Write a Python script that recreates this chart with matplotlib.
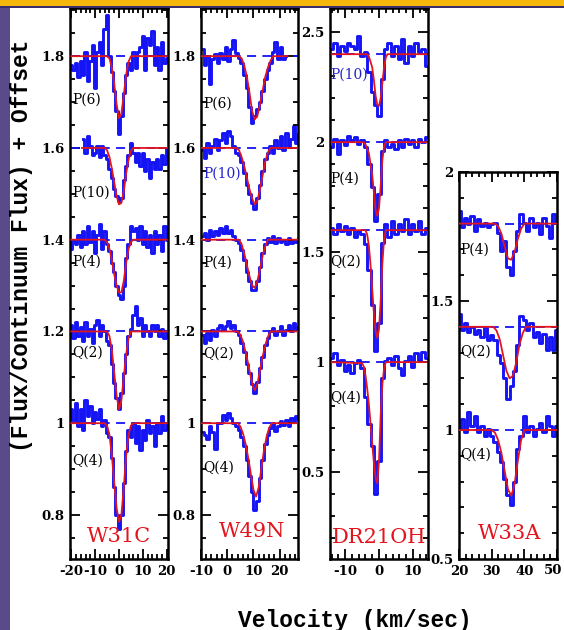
import numpy as np
import matplotlib
matplotlib.use('Agg')
import matplotlib.pyplot as plt
from matplotlib.patches import Rectangle
from matplotlib.ticker import MultipleLocator, FuncFormatter

plt.rcParams['axes.unicode_minus'] = False

# ── velocity channels (km/s) ──────────────────────────────────────────────────
v_w31c = np.arange(-20, 21)
v_w31c_p10 = np.arange(-15, 21)
v_w49n = np.arange(-9.5, 28)
v_w49n_p6 = np.arange(-9.5, 23)
v_dr21 = np.arange(-14, 15)
v_w33a = np.arange(20, 51)

# ── normalised spectra (flux / continuum) ─────────────────────────────────────
w31c_p6 = [0.98, 0.97, 0.985, 0.955, 0.99, 0.96, 1.01, 0.945, 0.99, 1.025,
           0.93, 1.01, 1.03, 0.98, 1.06, 1.09, 1.0, 0.965, 0.925, 0.88,
           0.83, 0.87, 0.92, 0.96, 0.985, 0.97, 1.01, 0.975, 1.01, 1.02,
           1.045, 0.97, 1.04, 1.025, 1.055, 0.98, 1.02, 0.97, 1.03, 0.985, 0.995]
w31c_p10 = [1.02, 0.99, 1.025, 1.005, 0.985, 0.99, 1.005, 0.98, 1.005, 0.985,
            0.975, 0.955, 0.935, 0.91, 0.895, 0.885, 0.89, 0.93, 0.96, 0.985,
            1.01, 0.99, 0.97, 0.99, 0.96, 0.99, 0.95, 0.975, 0.935, 0.97,
            0.955, 0.975, 0.955, 0.985, 0.965, 1.0]
w31c_p4 = [0.98, 1.0, 0.99, 1.01, 0.985, 1.02, 0.99, 1.03, 0.995, 1.02,
           0.97, 1.01, 1.035, 0.98, 1.02, 0.99, 0.975, 0.95, 0.93, 0.9,
           0.88, 0.87, 0.9, 0.96, 0.99, 1.03, 1.02, 1.025, 1.0, 1.03,
           0.99, 1.02, 0.985, 1.01, 0.97, 1.02, 0.99, 1.01, 0.975, 1.03, 1.0]
w31c_q2 = [1.013, 0.985, 1.02, 0.99, 1.01, 0.98, 1.02, 0.99, 1.005, 0.975,
           1.013, 1.025, 0.99, 1.013, 1.0, 0.98, 0.97, 0.93, 0.887, 0.854,
           0.832, 0.865, 0.91, 0.95, 0.99, 1.005, 1.035, 1.055, 1.013, 1.03,
           0.99, 1.015, 1.0, 0.99, 1.013, 1.0, 1.015, 0.99, 1.005, 0.985, 1.0]
w31c_q4 = [1.03, 1.007, 1.045, 0.993, 1.03, 0.985, 1.05, 1.015, 1.037, 1.0,
           1.025, 1.01, 1.03, 0.993, 1.007, 0.978, 0.97, 0.925, 0.86, 0.80,
           0.77, 0.80, 0.87, 0.94, 0.985, 0.97, 1.0, 0.956, 0.993, 0.942,
           0.985, 0.963, 1.007, 0.978, 0.993, 0.95, 1.0, 0.978, 1.015, 0.985, 1.0]

w49n_p6 = [1.015, 0.98, 1.0, 0.94, 0.993, 1.004, 0.985, 1.007, 0.993, 1.02,
           0.99, 1.015, 1.035, 1.007, 0.996, 0.985, 0.96, 0.93, 0.89, 0.855,
           0.87, 0.885, 0.9, 0.925, 0.95, 0.97, 0.985, 1.01, 1.03, 0.993,
           1.02, 0.993, 1.0]
w49n_p10 = [0.996, 0.978, 1.01, 0.99, 1.004, 1.02, 0.996, 1.018, 1.033, 1.01,
            1.036, 1.025, 1.004, 0.99, 0.985, 0.97, 0.945, 0.92, 0.9, 0.88,
            0.867, 0.89, 0.92, 0.95, 0.975, 0.99, 1.004, 0.99, 1.018, 1.0,
            1.025, 0.996, 1.033, 1.004, 1.02, 1.047, 1.01, 1.03]
w49n_p4 = [1.007, 1.015, 1.0, 1.022, 1.007, 1.018, 1.011, 1.025, 1.015, 1.03,
           1.015, 1.022, 1.007, 1.0, 0.993, 0.978, 0.956, 0.93, 0.91, 0.89,
           0.89, 0.91, 0.94, 0.97, 0.99, 1.004, 0.996, 1.007, 0.993, 1.004,
           0.996, 1.0, 0.99, 1.004, 0.993, 1.0, 0.996, 1.004]
w49n_q2 = [0.993, 0.975, 0.996, 0.982, 1.004, 0.99, 1.007, 1.015, 1.004, 1.011,
           1.022, 1.007, 1.015, 1.0, 0.993, 0.975, 0.955, 0.93, 0.91, 0.885,
           0.865, 0.89, 0.92, 0.945, 0.97, 0.985, 1.0, 1.007, 0.993, 1.0,
           1.011, 0.993, 1.004, 1.015, 1.0, 1.018, 1.007, 1.012]
w49n_q4 = [0.98, 0.975, 0.965, 0.994, 0.98, 0.943, 1.0, 1.0, 1.018, 1.008,
           1.022, 1.011, 1.0, 0.993, 0.985, 0.97, 0.95, 0.92, 0.885, 0.85,
           0.81, 0.83, 0.88, 0.92, 0.955, 0.975, 0.99, 1.0, 0.982, 0.993,
           1.004, 0.996, 1.008, 0.993, 1.011, 1.004, 1.015, 1.01]

dr21_p10 = [1.023, 1.053, 0.992, 1.038, 1.015, 1.053, 1.038, 1.023, 1.083, 0.992,
            1.008, 0.917, 0.826, 0.77, 0.72, 0.886, 1.023, 1.053, 0.992, 1.038,
            0.977, 1.068, 0.962, 1.038, 0.992, 1.053, 1.008, 1.023, 0.947]
dr21_p4 = [0.977, 1.015, 0.947, 1.008, 0.985, 1.03, 1.008, 1.023, 0.992, 1.008,
           0.977, 0.9, 0.795, 0.64, 0.765, 0.962, 1.008, 0.977, 0.992, 0.97,
           1.008, 0.977, 1.015, 0.992, 1.008, 0.977, 1.015, 1.0, 1.023]
dr21_q2 = [1.012, 0.982, 1.027, 0.997, 1.02, 0.982, 1.012, 0.967, 0.997, 0.982,
           0.936, 0.82, 0.66, 0.45, 0.58, 0.94, 1.027, 0.967, 1.042, 0.982,
           1.027, 0.997, 1.05, 0.982, 1.027, 0.997, 1.042, 0.982, 1.012]
dr21_q4 = [1.018, 1.041, 0.988, 1.011, 0.958, 0.988, 0.95, 0.995, 1.011, 0.973,
           0.84, 0.72, 0.62, 0.4, 0.55, 0.93, 1.003, 1.018, 0.988, 1.026,
           0.973, 0.942, 1.003, 1.026, 0.98, 1.041, 1.011, 1.048, 1.018]

w33a_p4 = [1.049, 0.985, 1.023, 0.997, 1.029, 0.972, 1.017, 0.991, 1.004, 0.985,
           0.997, 1.004, 0.965, 0.895, 0.933, 0.831, 0.799, 0.895, 0.972, 1.036,
           1.004, 0.972, 1.023, 0.985, 1.004, 0.959, 1.023, 0.991, 0.946, 1.036, 1.004]
w33a_q2 = [1.051, 0.987, 1.013, 0.981, 1.0, 0.974, 0.987, 0.962, 1.0, 0.949,
           0.968, 0.95, 0.89, 0.86, 0.8, 0.72, 0.77, 0.83, 0.93, 1.04,
           1.026, 0.987, 1.013, 0.962, 0.981, 0.936, 0.974, 0.91, 0.962, 0.91, 0.987]
w33a_q4 = [1.004, 1.042, 0.991, 1.068, 1.017, 1.055, 0.991, 1.017, 0.978, 1.004,
           0.978, 0.953, 0.914, 0.876, 0.812, 0.748, 0.71, 0.8, 0.927, 0.978,
           1.055, 0.991, 1.017, 0.978, 1.004, 1.029, 0.991, 1.055, 1.017, 0.978, 1.017]

# ── fitted line profiles (velocity knots, normalised flux) ────────────────────
fit_w31c_p6_v = [-20, -5, -4, -3, -2, -1, 0, 1, 2, 3, 4, 5, 20]
fit_w31c_p6_f = [1, 1, 0.995, 0.975, 0.94, 0.895, 0.865, 0.875, 0.915, 0.96, 0.988, 1, 1]
fit_w31c_p10_v = [-15.5, -6, -5, -4, -3, -2, -1, 0, 1, 2, 3, 4, 5, 6, 20]
fit_w31c_p10_f = [1, 1, 0.995, 0.98, 0.955, 0.925, 0.895, 0.877, 0.88, 0.905, 0.945, 0.975, 0.993, 1, 1]
fit_w31c_p4_v = [-20, -6, -5, -4, -3, -2, -1, 0, 1, 2, 3, 4, 5, 6, 20]
fit_w31c_p4_f = [1, 1, 0.995, 0.98, 0.955, 0.925, 0.9, 0.885, 0.885, 0.91, 0.95, 0.98, 0.995, 1, 1]
fit_w31c_q2_v = [-20, -5, -4, -3, -2, -1, 0, 1, 2, 3, 4, 5, 20]
fit_w31c_q2_f = [1, 1, 0.99, 0.96, 0.91, 0.86, 0.83, 0.85, 0.9, 0.95, 0.985, 1, 1]
fit_w31c_q4_v = [-20, -6, -5, -4, -3, -2, -1, 0, 1, 2, 3, 4, 5, 6, 20]
fit_w31c_q4_f = [1, 1, 0.995, 0.975, 0.93, 0.87, 0.815, 0.785, 0.8, 0.86, 0.93, 0.975, 0.995, 1, 1]

fit_w49n_p6_v = [-10, 4.5, 5.5, 6.5, 7.5, 8.5, 9.5, 10.5, 11.5, 12.5, 13.5, 14.5, 15.5, 16.5, 17.5, 23]
fit_w49n_p6_f = [1, 1, 0.995, 0.98, 0.955, 0.92, 0.88, 0.862, 0.87, 0.895, 0.925, 0.955, 0.975, 0.99, 1, 1]
fit_w49n_p10_v = [-10, 3.5, 4.5, 5.5, 6.5, 7.5, 8.5, 9.5, 10.5, 11.5, 12.5, 13.5, 14.5, 15.5, 16.5, 27]
fit_w49n_p10_f = [1, 1, 0.995, 0.98, 0.96, 0.935, 0.91, 0.89, 0.877, 0.885, 0.91, 0.94, 0.97, 0.99, 1, 1]
fit_w49n_p4_v = [-10, 4.5, 5.5, 6.5, 7.5, 8.5, 9.5, 10.5, 11.5, 12.5, 13.5, 14.5, 15.5, 27]
fit_w49n_p4_f = [1, 1, 0.99, 0.97, 0.945, 0.92, 0.9, 0.895, 0.91, 0.935, 0.965, 0.985, 1, 1]
fit_w49n_q2_v = [-10, 4, 5, 6, 7, 8, 9, 10, 10.5, 11.5, 12.5, 13.5, 14.5, 15.5, 16.5, 27]
fit_w49n_q2_f = [1, 1, 0.993, 0.978, 0.955, 0.93, 0.9, 0.877, 0.872, 0.885, 0.915, 0.945, 0.97, 0.988, 1, 1]
fit_w49n_q4_v = [-10, 4, 5, 6, 7, 8, 9, 10, 11, 12, 13, 14, 15, 16, 17, 27]
fit_w49n_q4_f = [1, 1, 0.993, 0.978, 0.955, 0.925, 0.89, 0.855, 0.84, 0.86, 0.9, 0.94, 0.97, 0.99, 1, 1]

fit_dr21_p10_v = [-14, -3.5, -3, -2, -1.5, -1, -0.5, 0, 0.5, 1, 1.5, 2, 2.5, 14]
fit_dr21_p10_f = [1, 1, 0.99, 0.94, 0.88, 0.81, 0.77, 0.765, 0.8, 0.87, 0.94, 0.985, 1, 1]
fit_dr21_p4_v = [-14, -4.5, -4, -3, -2, -1.5, -1, -0.5, 0, 0.5, 1, 1.5, 2, 14]
fit_dr21_p4_f = [1, 1, 0.99, 0.95, 0.85, 0.77, 0.69, 0.665, 0.7, 0.8, 0.92, 0.98, 1, 1]
fit_dr21_q2_v = [-14, -4, -3.5, -3, -2.5, -2, -1.5, -1, -0.5, 0, 0.5, 1, 1.5, 2, 14]
fit_dr21_q2_f = [1, 1, 0.98, 0.93, 0.84, 0.73, 0.62, 0.54, 0.51, 0.55, 0.68, 0.85, 0.96, 1, 1]
fit_dr21_q4_v = [-14, -5, -4.5, -4, -3.5, -3, -2.5, -2, -1.5, -1, -0.5, 0, 0.5, 1, 1.5, 2, 14]
fit_dr21_q4_f = [1, 0.995, 0.98, 0.94, 0.88, 0.81, 0.72, 0.63, 0.54, 0.47, 0.45, 0.55, 0.76, 0.9, 0.97, 1, 1]

fit_w33a_p4_v = [20, 31, 32, 33, 34, 35, 36, 37, 38, 39, 40, 50]
fit_w33a_p4_f = [1, 1, 0.99, 0.96, 0.91, 0.865, 0.86, 0.89, 0.94, 0.98, 1, 1]
fit_w33a_q2_v = [20, 30.5, 31.5, 32.5, 33.5, 34.5, 35.5, 36.5, 37.5, 38.5, 39.5, 40.5, 50]
fit_w33a_q2_f = [1, 1, 0.985, 0.95, 0.89, 0.83, 0.8, 0.81, 0.86, 0.93, 0.975, 1, 1]
fit_w33a_q4_v = [20, 30, 31, 32, 33, 34, 35, 36, 37, 38, 39, 40, 50]
fit_w33a_q4_f = [1, 1, 0.99, 0.96, 0.91, 0.84, 0.77, 0.745, 0.79, 0.88, 0.96, 1, 1]

# offsets added to each spectrum
w31c_offsets = [0.8, 0.6, 0.4, 0.2, 0.0]
w49n_offsets = [0.8, 0.6, 0.4, 0.2, 0.0]
dr21_offsets = [1.4, 1.0, 0.6, 0.0]
w33a_offsets = [0.8, 0.4, 0.0]

line_names = ['P(6)', 'P(10)', 'P(4)', 'Q(2)', 'Q(4)']

BLUE = '#1414f5'
RED = '#e3141c'
SERIF = 'DejaVu Serif'
MONO = 'Liberation Mono'

W, H = 564, 630
fig = plt.figure(figsize=(W / 100, H / 100), dpi=100)
fig.patch.set_facecolor('white')
fig.patches.append(Rectangle((0, 0), 10 / W, 1, transform=fig.transFigure,
                             facecolor='#5a4a8a', edgecolor='none', zorder=0))
fig.patches.append(Rectangle((0, 1 - 6 / H), 1, 6 / H, transform=fig.transFigure,
                             facecolor='#f6b70c', edgecolor='none', zorder=0))
fig.patches.append(Rectangle((0, 1 - 7.5 / H), 1, 1.5 / H, transform=fig.transFigure,
                             facecolor='#3b2d6e', edgecolor='none', zorder=0))


def make_ax(px_left, px_top, px_right, px_bottom, xlim, ylim, ymaj, ymin, xfmt=None):
    ax = fig.add_axes([px_left / W, 1 - px_bottom / H,
                       (px_right - px_left) / W, (px_bottom - px_top) / H])
    ax.set_xlim(*xlim)
    ax.set_ylim(*ylim)
    ax.xaxis.set_major_locator(MultipleLocator(10))
    ax.xaxis.set_minor_locator(MultipleLocator(2))
    ax.yaxis.set_major_locator(MultipleLocator(ymaj))
    ax.yaxis.set_minor_locator(MultipleLocator(ymin))
    ax.yaxis.set_major_formatter(FuncFormatter(lambda y, _: f'{y:g}'))
    if xfmt is not None:
        ax.xaxis.set_major_formatter(FuncFormatter(xfmt))
    ax.tick_params(which='both', direction='in', top=True, right=True,
                   width=1.3, labelsize=9.5, pad=4)
    ax.tick_params(which='major', length=7)
    ax.tick_params(which='minor', length=3.5)
    for lab in ax.get_xticklabels() + ax.get_yticklabels():
        lab.set_fontfamily(SERIF)
        lab.set_fontweight('bold')
    for sp in ax.spines.values():
        sp.set_linewidth(1.8)
    return ax


def draw(ax, v, flux, off, fv, ff):
    ax.axhline(1 + off, color=BLUE, lw=1.3, ls=(0, (5, 3.5)), zorder=2)
    ax.plot(v, np.array(flux) + off, drawstyle='steps-mid', color=BLUE, lw=2.1, zorder=1)
    ax.plot(fv, np.array(ff) + off, color=RED, lw=1.3, zorder=3)


def label(ax, x, y, s, color='black'):
    ax.text(x, y, s, fontsize=10, family=SERIF, color=color,
            ha='left', va='center', zorder=5)


# ── W31C ─────────────────────────────────────────────────────────────────────
ax1 = make_ax(70, 8, 168, 559, (-20.5, 20.5), (0.704, 1.905), 0.2, 0.05)
draw(ax1, v_w31c, w31c_p6, w31c_offsets[0], fit_w31c_p6_v, fit_w31c_p6_f)
draw(ax1, v_w31c_p10, w31c_p10, w31c_offsets[1], fit_w31c_p10_v, fit_w31c_p10_f)
draw(ax1, v_w31c, w31c_p4, w31c_offsets[2], fit_w31c_p4_v, fit_w31c_p4_f)
draw(ax1, v_w31c, w31c_q2, w31c_offsets[3], fit_w31c_q2_v, fit_w31c_q2_f)
draw(ax1, v_w31c, w31c_q4, w31c_offsets[4], fit_w31c_q4_v, fit_w31c_q4_f)
for nm, y in zip(line_names, [1.706, 1.503, 1.352, 1.154, 0.918]):
    label(ax1, -19.6, y, nm)
ax1.text(0, 0.752, 'W31C', color=RED, fontsize=15, family=SERIF, ha='center', va='center')

# ── W49N ─────────────────────────────────────────────────────────────────────
ax2 = make_ax(201, 8, 298, 559, (-10, 27), (0.704, 1.905), 0.2, 0.05)
draw(ax2, v_w49n_p6, w49n_p6, w49n_offsets[0], fit_w49n_p6_v, fit_w49n_p6_f)
draw(ax2, v_w49n, w49n_p10, w49n_offsets[1], fit_w49n_p10_v, fit_w49n_p10_f)
draw(ax2, v_w49n, w49n_p4, w49n_offsets[2], fit_w49n_p4_v, fit_w49n_p4_f)
draw(ax2, v_w49n, w49n_q2, w49n_offsets[3], fit_w49n_q2_v, fit_w49n_q2_f)
draw(ax2, v_w49n, w49n_q4, w49n_offsets[4], fit_w49n_q4_v, fit_w49n_q4_f)
for nm, y, c in zip(line_names, [1.696, 1.543, 1.35, 1.152, 0.902],
                    ['black', '#2222cc', 'black', 'black', 'black']):
    label(ax2, -9.3, y, nm, c)
ax2.text(9.5, 0.763, 'W49N', color=RED, fontsize=15, family=SERIF, ha='center', va='center')

# ── DR21OH ───────────────────────────────────────────────────────────────────
ax3 = make_ax(330, 8, 428, 559, (-14.5, 14.5), (0.105, 2.61), 0.5, 0.1)
draw(ax3, v_dr21, dr21_p10, dr21_offsets[0], fit_dr21_p10_v, fit_dr21_p10_f)
draw(ax3, v_dr21, dr21_p4, dr21_offsets[1], fit_dr21_p4_v, fit_dr21_p4_f)
draw(ax3, v_dr21, dr21_q2, dr21_offsets[2], fit_dr21_q2_v, fit_dr21_q2_f)
draw(ax3, v_dr21, dr21_q4, dr21_offsets[3], fit_dr21_q4_v, fit_dr21_q4_f)
for nm, y, c in zip(line_names[1:], [2.305, 1.836, 1.455, 0.84],
                    ['#2222cc', 'black', 'black', 'black']):
    label(ax3, -14.3, y, nm, c)
ax3.text(0, 0.205, 'DR21OH', color=RED, fontsize=15, family=SERIF, ha='center', va='center')

# ── W33A ─────────────────────────────────────────────────────────────────────
# the tick label at the right edge is drawn separately so it stays in the picture
ax4 = make_ax(459, 172, 557, 559, (20, 50), (0.5, 2.0), 0.5, 0.1,
              xfmt=lambda x, _: '' if x >= 50 else f'{x:g}')
draw(ax4, v_w33a, w33a_p4, w33a_offsets[0], fit_w33a_p4_v, fit_w33a_p4_f)
draw(ax4, v_w33a, w33a_q2, w33a_offsets[1], fit_w33a_q2_v, fit_w33a_q2_f)
draw(ax4, v_w33a, w33a_q4, w33a_offsets[2], fit_w33a_q4_v, fit_w33a_q4_f)
for nm, y in zip(line_names[2:], [1.7, 1.304, 0.904]):
    label(ax4, 20.3, y, nm)
ax4.text(35.6, 0.6, 'W33A', color=RED, fontsize=15, family=SERIF, ha='center', va='center')
fig.text(553 / W, 1 - 571 / H, '50', fontsize=9.5, family=SERIF, fontweight='bold',
         ha='center', va='center')

# ── axis titles ──────────────────────────────────────────────────────────────
fig.text(355 / W, 1 - 620 / H, 'Velocity (km/sec)', fontsize=16.5, family=MONO,
         fontweight='bold', ha='center', va='center')
fig.text(22 / W, 1 - 246 / H, '(Flux/Continuum Flux) + Offset', fontsize=16.5,
         family=MONO, fontweight='bold', rotation=90, ha='center', va='center')

fig.savefig('out.png', dpi=100, facecolor='white')
